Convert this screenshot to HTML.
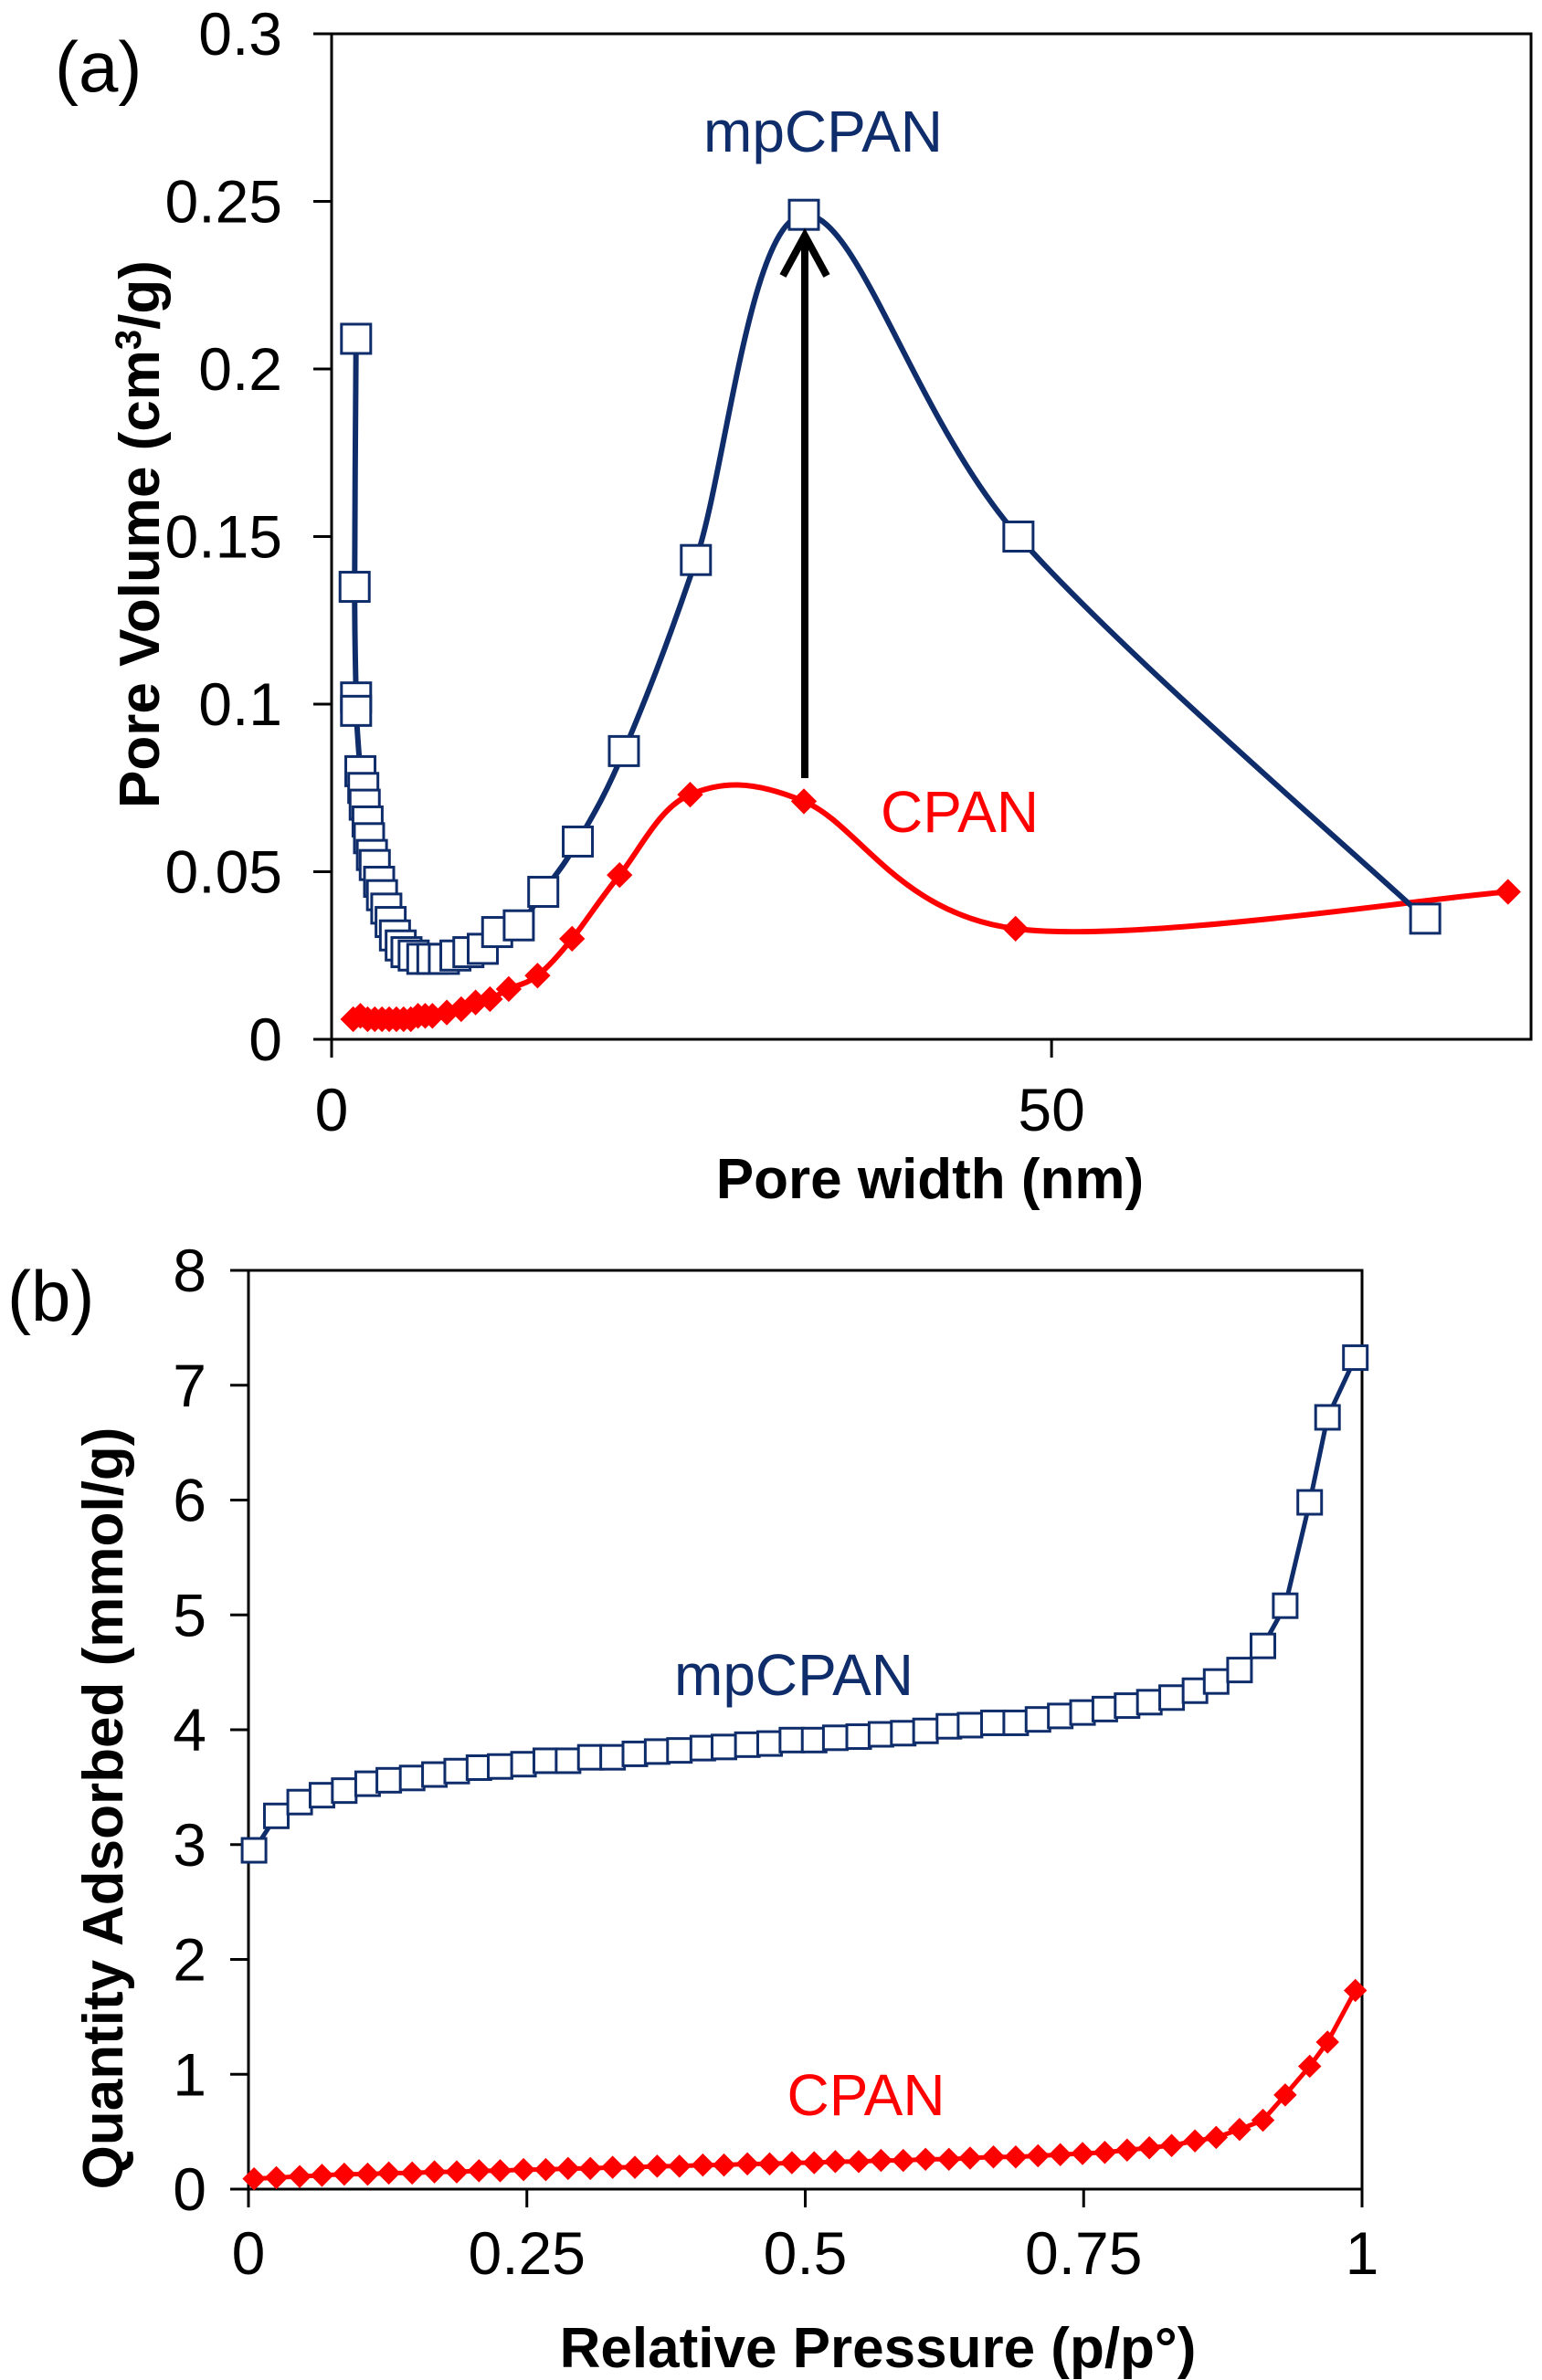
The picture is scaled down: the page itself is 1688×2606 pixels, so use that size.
<!DOCTYPE html>
<html><head><meta charset="utf-8"><style>
html,body{margin:0;padding:0;background:#fff}
svg{display:block}
text{font-family:"Liberation Sans",Arial,sans-serif}
</style></head><body>
<svg id="fig" xmlns="http://www.w3.org/2000/svg" width="1688" height="2606" viewBox="0 0 1688 2606">
<rect width="1688" height="2606" fill="#fff"/>
<g id="pa"></g>
<g id="pb"></g>
</svg>
<script>
// ---- Panel (a) data ----
const aXTicks=[0,50];
const aYTicks=[0,0.05,0.1,0.15,0.2,0.25,0.3];
const aYTickLabels=["0","0.05","0.1","0.15","0.2","0.25","0.3"];
const aMpX=[1.7,1.6,1.7,1.7,2.0,2.2,2.3,2.5,2.6,2.8,3.0,3.3,3.5,3.8,4.1,4.4,4.8,5.2,5.7,6.3,7.0,7.8,8.6,9.5,10.5,11.5,13.0,14.7,17.1,20.3,25.3,32.8,47.7,75.95];
const aMpY=[0.209,0.135,0.102,0.098,0.080,0.075,0.070,0.065,0.060,0.055,0.052,0.047,0.043,0.039,0.035,0.031,0.028,0.026,0.025,0.024,0.024,0.024,0.025,0.026,0.027,0.032,0.034,0.044,0.059,0.086,0.143,0.246,0.150,0.036];
const aCpX=[1.5,2,2.5,3,3.5,4,4.5,5,5.5,6,6.5,7,8,9,10,11,12.3,14.3,16.7,20.0,24.9,32.8,47.5,81.7];
const aCpY=[0.006,0.007,0.006,0.006,0.006,0.006,0.006,0.006,0.006,0.007,0.007,0.007,0.008,0.009,0.011,0.012,0.015,0.019,0.030,0.049,0.073,0.071,0.033,0.044];
// ---- Panel (b) data ----
const bXTicks=[0,0.25,0.5,0.75,1];
const bXTickLabels=["0","0.25","0.5","0.75","1"];
const bYTicks=[0,1,2,3,4,5,6,7,8];
const bMpX=[0.005,0.025,0.046,0.066,0.086,0.107,0.126,0.147,0.167,0.187,0.207,0.226,0.247,0.267,0.287,0.307,0.327,0.347,0.367,0.387,0.408,0.427,0.448,0.468,0.488,0.508,0.527,0.548,0.568,0.588,0.608,0.629,0.648,0.669,0.689,0.709,0.729,0.749,0.769,0.789,0.809,0.829,0.85,0.869,0.89,0.911,0.931,0.953,0.969,0.994];
const bMpY=[2.95,3.25,3.37,3.43,3.47,3.53,3.56,3.58,3.61,3.64,3.67,3.68,3.70,3.73,3.73,3.76,3.76,3.79,3.81,3.82,3.84,3.85,3.87,3.88,3.91,3.91,3.93,3.94,3.96,3.97,3.99,4.03,4.04,4.06,4.06,4.09,4.12,4.15,4.18,4.21,4.24,4.28,4.34,4.42,4.52,4.73,5.08,5.98,6.72,7.24];
const bCpX=[0.005,0.025,0.046,0.066,0.086,0.107,0.126,0.147,0.167,0.187,0.207,0.226,0.247,0.267,0.287,0.307,0.327,0.347,0.367,0.387,0.408,0.427,0.448,0.468,0.488,0.508,0.527,0.548,0.568,0.588,0.608,0.629,0.648,0.669,0.689,0.709,0.729,0.749,0.769,0.789,0.809,0.829,0.85,0.869,0.89,0.911,0.931,0.953,0.969,0.994];
const bCpY=[0.09,0.10,0.11,0.12,0.13,0.13,0.14,0.14,0.15,0.15,0.16,0.16,0.17,0.17,0.18,0.18,0.19,0.19,0.20,0.20,0.21,0.21,0.22,0.22,0.23,0.23,0.24,0.24,0.25,0.25,0.26,0.26,0.27,0.28,0.28,0.29,0.30,0.31,0.32,0.34,0.36,0.38,0.42,0.45,0.52,0.60,0.82,1.07,1.28,1.73];

const NS="http://www.w3.org/2000/svg";
function mk(parent,tag,attrs,text){const e=document.createElementNS(NS,tag);for(const k in attrs)e.setAttribute(k,attrs[k]);if(text!==undefined)e.textContent=text;parent.appendChild(e);return e;}
function crPath(pts){let d=`M${pts[0][0]},${pts[0][1]}`;for(let i=0;i<pts.length-1;i++){const p0=pts[i-1]||pts[i],p1=pts[i],p2=pts[i+1],p3=pts[i+2]||p2;const c1=[p1[0]+(p2[0]-p0[0])/6,p1[1]+(p2[1]-p0[1])/6];const c2=[p2[0]-(p3[0]-p1[0])/6,p2[1]-(p3[1]-p1[1])/6];d+=` C${c1[0]},${c1[1]} ${c2[0]},${c2[1]} ${p2[0]},${p2[1]}`;}return d;}
const NAVY="#0f2d6b", RED="#ff0000";
const TICKFS=66, TITLEFS=62, LABFS=64;

// ===== Panel A =====
(function(){
const g=document.getElementById('pa');
const L=363,R=1676,T=37,B=1138,XMAX=83.3,YMAX=0.3;
const xs=v=>L+(v/XMAX)*(R-L), ys=v=>B-(v/YMAX)*(B-T);
let e=mk(g,'rect',{x:L,y:T,width:R-L,height:B-T,fill:'none',stroke:'#000','stroke-width':3});


aYTicks.forEach((v,i)=>{
  let t=mk(g,'line',{x1:L-20,x2:L,y1:ys(v),y2:ys(v),stroke:'#000','stroke-width':3});
  
  
  let l=mk(g,'text',{x:309,y:ys(v)+23,'text-anchor':'end','font-size':TICKFS,fill:'#000'},aYTickLabels[i]);
  
  
});
aXTicks.forEach(v=>{
  let t=mk(g,'line',{x1:xs(v),x2:xs(v),y1:B,y2:B+20,stroke:'#000','stroke-width':3});
  
  
  let l=mk(g,'text',{x:xs(v),y:1238,'text-anchor':'middle','font-size':TICKFS,fill:'#000'},String(v));
  
  
});
const mp=aMpX.map((x,i)=>[xs(x),ys(aMpY[i])]);
const cp=aCpX.map((x,i)=>[xs(x),ys(aCpY[i])]);
e=mk(g,'path',{d:crPath(cp),fill:'none',stroke:RED,'stroke-width':6});


e=mk(g,'path',{d:crPath(mp),fill:'none',stroke:NAVY,'stroke-width':6});


cp.forEach(p=>{
  let m=mk(g,'rect',{x:p[0]-10,y:p[1]-10,width:20,height:20,fill:RED,transform:`rotate(45 ${p[0]} ${p[1]})`});
  
  
});
mp.forEach(p=>{
  let m=mk(g,'rect',{x:p[0]-16,y:p[1]-16,width:32,height:32,fill:'#fff',stroke:NAVY,'stroke-width':3});
  
  
});
e=mk(g,'line',{x1:881,y1:852,x2:881,y2:262,stroke:'#000','stroke-width':8});


e=mk(g,'polyline',{points:'857,302 881,258 905,302',fill:'none',stroke:'#000','stroke-width':8,'stroke-linejoin':'miter'});


e=mk(g,'text',{x:901,y:166,'text-anchor':'middle','font-size':LABFS,fill:NAVY},'mpCPAN');


e=mk(g,'text',{x:964,y:911,'font-size':LABFS,fill:RED},'CPAN');


e=mk(g,'text',{x:60,y:100,'font-size':78,fill:'#000'},'(a)');


e=mk(g,'text',{x:1018,y:1312,'text-anchor':'middle','font-size':TITLEFS,'font-weight':'bold',fill:'#000'},'Pore width (nm)');


e=mk(g,'text',{x:0,y:0,'text-anchor':'middle','font-size':TITLEFS,'font-weight':'bold',fill:'#000',transform:'translate(174,585) rotate(-90)'});


e.innerHTML='Pore Volume (cm<tspan dy="-20" font-size="40">3</tspan><tspan dy="20">/g)</tspan>';
})();

// ===== Panel B =====
(function(){
const g=document.getElementById('pb');
const L=272,R=1491,T=1391,B=2397,XMAX=1,YMAX=8;
const xs=v=>L+(v/XMAX)*(R-L), ys=v=>B-(v/YMAX)*(B-T);
let e=mk(g,'rect',{x:L,y:T,width:R-L,height:B-T,fill:'none',stroke:'#000','stroke-width':3});


bYTicks.forEach(v=>{
  let t=mk(g,'line',{x1:L-20,x2:L,y1:ys(v),y2:ys(v),stroke:'#000','stroke-width':3});
  
  
  let l=mk(g,'text',{x:226,y:ys(v)+23,'text-anchor':'end','font-size':TICKFS,fill:'#000'},String(v));
  
  
});
bXTicks.forEach((v,i)=>{
  let t=mk(g,'line',{x1:xs(v),x2:xs(v),y1:B,y2:B+20,stroke:'#000','stroke-width':3});
  
  
  let l=mk(g,'text',{x:xs(v),y:2490,'text-anchor':'middle','font-size':TICKFS,fill:'#000'},bXTickLabels[i]);
  
  
});
const mp=bMpX.map((x,i)=>[xs(x),ys(bMpY[i])]);
const cp=bCpX.map((x,i)=>[xs(x),ys(bCpY[i])]);
e=mk(g,'polyline',{points:cp.map(p=>p.join(',')).join(' '),fill:'none',stroke:RED,'stroke-width':5});


e=mk(g,'polyline',{points:mp.map(p=>p.join(',')).join(' '),fill:'none',stroke:NAVY,'stroke-width':5});


cp.forEach(p=>{
  let m=mk(g,'rect',{x:p[0]-9,y:p[1]-9,width:18,height:18,fill:RED,transform:`rotate(45 ${p[0]} ${p[1]})`});
  
  
});
mp.forEach(p=>{
  let m=mk(g,'rect',{x:p[0]-13,y:p[1]-13,width:26,height:26,fill:'#fff',stroke:NAVY,'stroke-width':3});
  
  
});
e=mk(g,'text',{x:869,y:1856,'text-anchor':'middle','font-size':LABFS,fill:NAVY},'mpCPAN');


e=mk(g,'text',{x:948,y:2316,'text-anchor':'middle','font-size':LABFS,fill:RED},'CPAN');


e=mk(g,'text',{x:8,y:1446,'font-size':78,fill:'#000'},'(b)');


e=mk(g,'text',{x:961,y:2592,'text-anchor':'middle','font-size':TITLEFS,'font-weight':'bold',fill:'#000'},'Relative Pressure (p/p°)');


e=mk(g,'text',{x:0,y:0,'text-anchor':'middle','font-size':TITLEFS,'font-weight':'bold',fill:'#000',transform:'translate(134,1980) rotate(-90)'},'Quantity Adsorbed (mmol/g)');


})();
</script>
</body></html>
